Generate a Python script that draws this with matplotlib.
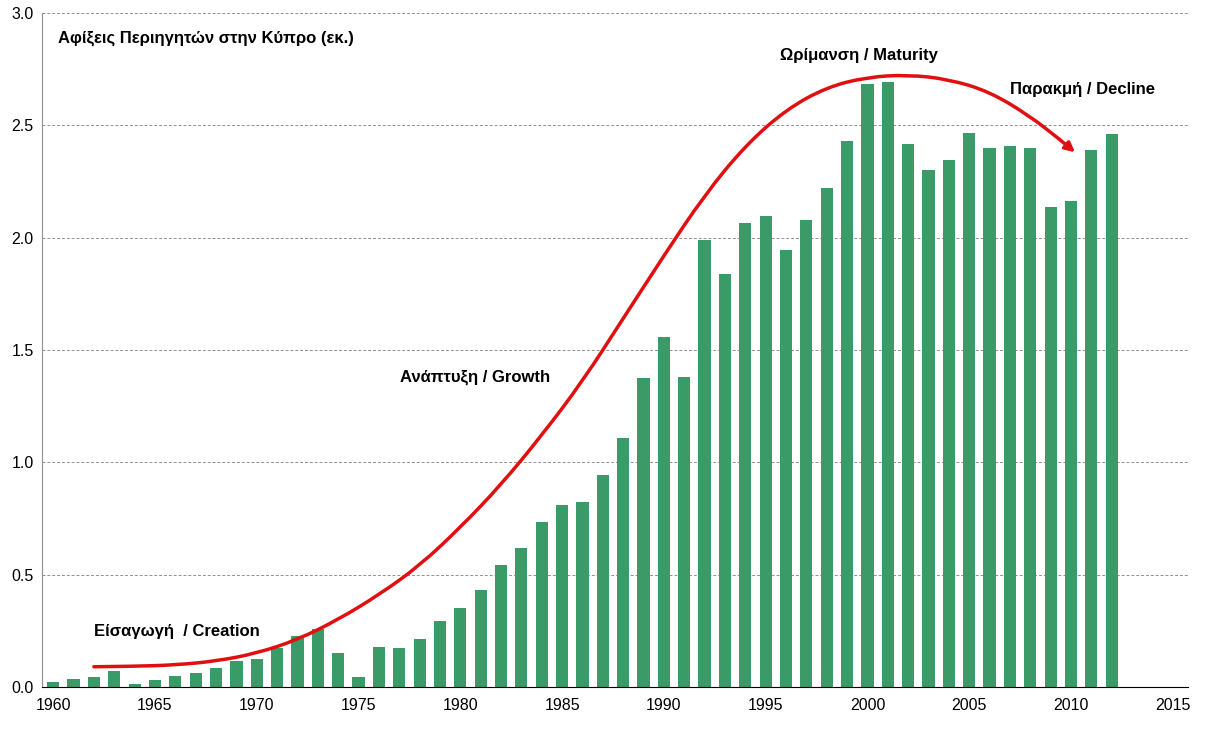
import numpy as np
import matplotlib.pyplot as plt
from matplotlib.path import Path
from matplotlib.patches import PathPatch

plt.rcParams['font.family'] = ['Liberation Sans', 'DejaVu Sans']

years = list(range(1960, 2013))
arrivals = [0.02, 0.035, 0.045, 0.07, 0.015, 0.03, 0.05, 0.063, 0.085, 0.115,
            0.125, 0.175, 0.225, 0.26, 0.15, 0.045, 0.18, 0.175, 0.215, 0.295,
            0.35, 0.43, 0.545, 0.62, 0.735, 0.81, 0.825, 0.945, 1.11, 1.375,
            1.56, 1.38, 1.99, 1.84, 2.065, 2.095, 1.945, 2.08, 2.22, 2.43,
            2.685, 2.695, 2.415, 2.30, 2.345, 2.465, 2.40, 2.41, 2.40, 2.135,
            2.165, 2.39, 2.46]

# hand-drawn life-cycle curve
curve_x = [1962.0, 1964.0, 1966.0, 1968.0, 1970.0, 1972.0, 1974.0, 1976.0, 1978.0,
           1980.0, 1982.0, 1984.0, 1986.0, 1988.0, 1990.0, 1992.0, 1994.0, 1996.0,
           1998.0, 2000.0, 2002.0, 2004.0, 2006.0, 2008.0, 2009.4, 2010.2]
curve_y = [0.09, 0.092, 0.098, 0.115, 0.15, 0.21, 0.30, 0.41, 0.54,
           0.71, 0.90, 1.12, 1.36, 1.64, 1.92, 2.19, 2.41, 2.57,
           2.67, 2.715, 2.725, 2.705, 2.65, 2.54, 2.44, 2.38]

fig = plt.figure(figsize=(12.07, 7.39), dpi=100)
ax = fig.add_axes([0.0348, 0.0704, 0.9495, 0.912])

ax.bar(years, arrivals, width=0.6, color='#3a9a68', zorder=2)

# smooth the drawn curve with quadratic segments through midpoints
pts = list(zip(curve_x[:-1], curve_y[:-1]))
verts = [pts[0]]
codes = [Path.MOVETO]
for i in range(1, len(pts) - 1):
    mid = ((pts[i][0] + pts[i + 1][0]) / 2, (pts[i][1] + pts[i + 1][1]) / 2)
    verts += [pts[i], mid]
    codes += [Path.CURVE3, Path.CURVE3]
verts.append(pts[-1])
codes.append(Path.LINETO)
ax.add_patch(PathPatch(Path(verts, codes), fill=False, edgecolor='#e01010',
                       lw=2.5, capstyle='round', zorder=3))
ax.annotate('', xy=(curve_x[-1], curve_y[-1]), xytext=(curve_x[-2], curve_y[-2]),
            arrowprops=dict(arrowstyle='-|>', color='#e01010', lw=2.5,
                            mutation_scale=14, shrinkA=0, shrinkB=0), zorder=3)

ax.set_xlim(1959.45, 2015.75)
ax.set_ylim(0, 3.0)
ax.set_xticks(range(1960, 2016, 5))
ax.set_yticks(np.arange(0, 3.01, 0.5))
ax.set_yticklabels([f'{v:.1f}' for v in np.arange(0, 3.01, 0.5)])
ax.tick_params(length=0, labelsize=11.5, pad=6)
ax.tick_params(axis='x', pad=8)

ax.yaxis.grid(True, linestyle=(0, (3, 2)), color='#909090', lw=0.7, zorder=0)
ax.set_axisbelow(True)
for s in ['top', 'right']:
    ax.spines[s].set_visible(False)
ax.spines['left'].set_color('#909090')
ax.spines['bottom'].set_color('black')

ax.text(0.014, 0.962, 'Αφίξεις Περιηγητών στην Κύπρο (εκ.)', transform=ax.transAxes,
        fontsize=12, fontweight='bold', va='center', ha='left')
ax.text(1999.6, 2.81, 'Ωρίμανση / Maturity', fontsize=12, fontweight='bold',
        ha='center', va='center')
ax.text(2007.0, 2.66, 'Παρακμή / Decline', fontsize=12, fontweight='bold',
        ha='left', va='center')
ax.text(1977.05, 1.38, 'Ανάπτυξη / Growth', fontsize=12, fontweight='bold',
        ha='left', va='center')
ax.text(1962.0, 0.247, 'Είσαγωγή  / Creation', fontsize=12, fontweight='bold',
        ha='left', va='center')

fig.savefig('out.png', dpi=100)
